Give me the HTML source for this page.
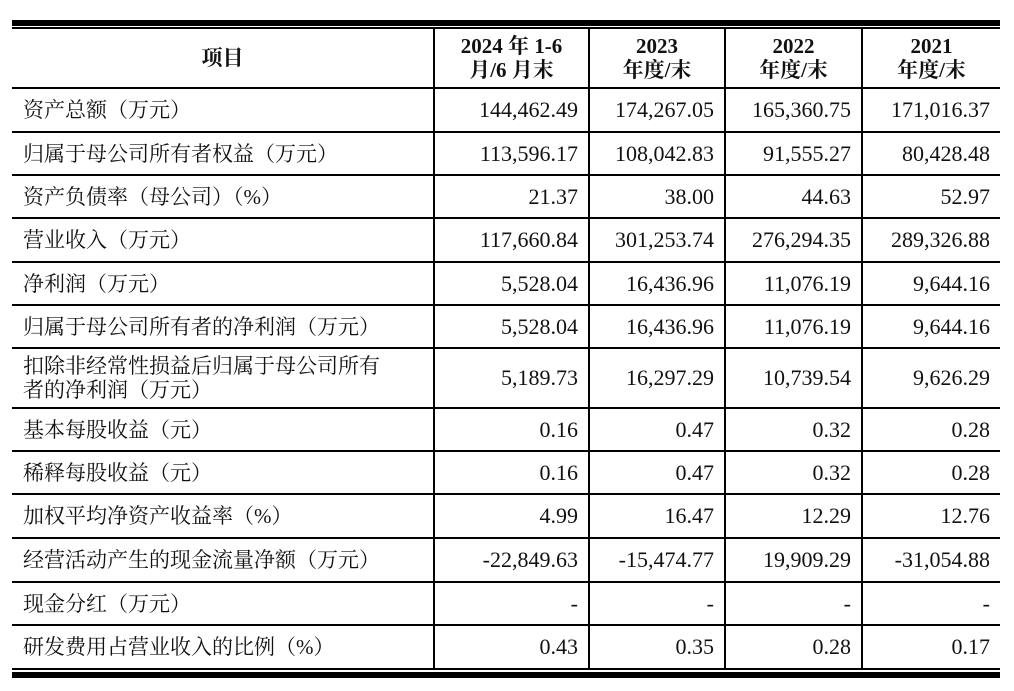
<!DOCTYPE html>
<html><head><meta charset="utf-8"><style>
body{margin:0;width:1014px;height:691px;background:#fff;position:relative;overflow:hidden}
.top{position:absolute;left:12px;width:988px;top:20px;height:6px;background:#000}
.bot{position:absolute;left:12px;width:988px;top:672px;height:6px;background:#000}
table{position:absolute;left:12px;top:27px;width:988px;border-collapse:collapse;table-layout:fixed;font-family:"Liberation Serif","Noto Serif CJK SC",serif;font-size:22px;color:#111}
td,th{border:2px solid #000;padding:0 10px;line-height:24px;white-space:nowrap}
tr td:first-child,tr th:first-child{border-left:none}
tr td:last-child,tr th:last-child{border-right:none}
th{font-weight:bold;text-align:center;font-size:21px}
td{text-align:right}
td.l{text-align:left;font-size:21px;padding-left:11px}
</style></head><body>
<div class="top"></div>
<table>
<colgroup><col style="width:422px"><col style="width:155px"><col style="width:136px"><col style="width:137px"><col style="width:138px"></colgroup>
<tr style="height:60px"><th>项目</th><th>2024 年 1-6<br>月/6 月末</th><th>2023<br>年度/末</th><th>2022<br>年度/末</th><th>2021<br>年度/末</th></tr>
<tr style="height:44px"><td class="l">资产总额（万元）</td><td>144,462.49</td><td>174,267.05</td><td>165,360.75</td><td>171,016.37</td></tr>
<tr style="height:43px"><td class="l">归属于母公司所有者权益（万元）</td><td>113,596.17</td><td>108,042.83</td><td>91,555.27</td><td>80,428.48</td></tr>
<tr style="height:43px"><td class="l">资产负债率（母公司）（%）</td><td>21.37</td><td>38.00</td><td>44.63</td><td>52.97</td></tr>
<tr style="height:44px"><td class="l">营业收入（万元）</td><td>117,660.84</td><td>301,253.74</td><td>276,294.35</td><td>289,326.88</td></tr>
<tr style="height:43px"><td class="l">净利润（万元）</td><td>5,528.04</td><td>16,436.96</td><td>11,076.19</td><td>9,644.16</td></tr>
<tr style="height:43px"><td class="l">归属于母公司所有者的净利润（万元）</td><td>5,528.04</td><td>16,436.96</td><td>11,076.19</td><td>9,644.16</td></tr>
<tr style="height:60px"><td class="l">扣除非经常性损益后归属于母公司所有<br>者的净利润（万元）</td><td>5,189.73</td><td>16,297.29</td><td>10,739.54</td><td>9,626.29</td></tr>
<tr style="height:43px"><td class="l">基本每股收益（元）</td><td>0.16</td><td>0.47</td><td>0.32</td><td>0.28</td></tr>
<tr style="height:43px"><td class="l">稀释每股收益（元）</td><td>0.16</td><td>0.47</td><td>0.32</td><td>0.28</td></tr>
<tr style="height:44px"><td class="l">加权平均净资产收益率（%）</td><td>4.99</td><td>16.47</td><td>12.29</td><td>12.76</td></tr>
<tr style="height:44px"><td class="l">经营活动产生的现金流量净额（万元）</td><td>-22,849.63</td><td>-15,474.77</td><td>19,909.29</td><td>-31,054.88</td></tr>
<tr style="height:43px"><td class="l">现金分红（万元）</td><td>-</td><td>-</td><td>-</td><td>-</td></tr>
<tr style="height:44px"><td class="l">研发费用占营业收入的比例（%）</td><td>0.43</td><td>0.35</td><td>0.28</td><td>0.17</td></tr>
</table>
<div class="bot"></div>
</body></html>
